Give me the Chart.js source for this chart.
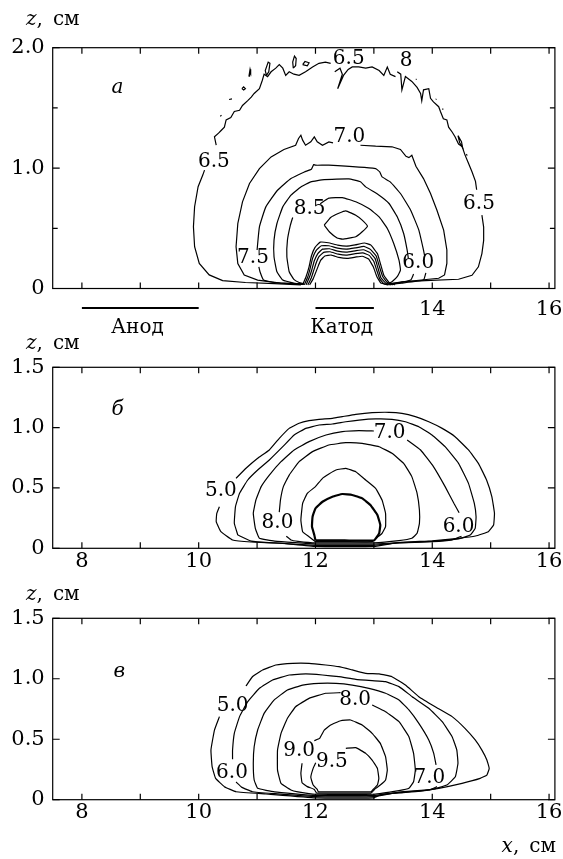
<!DOCTYPE html>
<html>
<head>
<meta charset="utf-8">
<script src="https://cdn.jsdelivr.net/npm/chart.js@4.4.0/dist/chart.umd.min.js"></script>
<style>
  body { margin: 0; background: #fff; width: 563px; height: 859px; position: relative; overflow: hidden; }
  canvas { position: absolute; left: 0; }
</style>
</head>
<body>
<canvas id="chartA" width="563" height="340" style="top:0"></canvas>
<canvas id="chartB" width="563" height="250" style="top:330px"></canvas>
<canvas id="chartC" width="563" height="279" style="top:580px"></canvas>
<script>
const FAMILY = '"DejaVu Serif", "Liberation Serif", serif';
const TICK_SIZE = 21;
const FONT = "20px " + FAMILY;
const FONT_IT = "italic 20px " + FAMILY;

const xTicks = [8, 9, 10, 11, 12, 13, 14, 15, 16];
const xLabelsA = [14, 16];
const xLabels = [8, 10, 12, 14, 16];
const zTicksA = [0, 0.5, 1, 1.5, 2];
const zLabelsA = [0, 1, 2];
const zTicks = [0, 0.5, 1, 1.5];

// electrodes under panel a: name, from x, to x, text centre
const electrodes = [["Анод", 8, 10, 8.95], ["Катод", 12, 13, 12.45]];

// panel a contours, [x, z] in cm, null = gap for a label
const a65 = [
  [11.75,0.03],[11.3,0.04],[10.8,0.05],[10.41,0.065],[10.18,0.113],[10.01,0.209],[9.93,0.347],[9.91,0.513],[9.93,0.679],[9.99,0.845],[10.07,0.942],[10.10,0.983], null,
  [10.30,1.19],[10.27,1.26],[10.34,1.29],[10.38,1.31],[10.44,1.34],[10.47,1.40],[10.55,1.42],[10.61,1.47],[10.70,1.48],[10.75,1.52],[10.84,1.56],[10.90,1.59],[10.95,1.62],[11.04,1.66],[11.09,1.73],[11.12,1.78],[11.18,1.76],[11.24,1.80],[11.32,1.83],[11.38,1.86],[11.44,1.83],[11.49,1.77],[11.55,1.80],[11.63,1.78],[11.72,1.77],[11.83,1.80],[11.95,1.84],[12.06,1.87],[12.17,1.88],[12.26,1.87], null,
  [12.33,1.80],[12.42,1.83],[12.46,1.78],[12.38,1.66],[12.48,1.77],[12.56,1.82],[12.63,1.84],[12.74,1.84],[12.86,1.83],[12.97,1.84],[13.09,1.81],[13.17,1.77],[13.23,1.84],[13.28,1.78],[13.37,1.76], null,
  [13.40,1.80],[13.46,1.78],[13.48,1.65],[13.54,1.76],[13.65,1.72],[13.74,1.67],[13.80,1.62],[13.82,1.56],[13.85,1.65],[13.94,1.66],[13.97,1.58],[14.02,1.55],[14.11,1.51],[14.14,1.47],[14.19,1.41],[14.25,1.40],[14.28,1.34],[14.34,1.30],[14.39,1.26],[14.45,1.20],[14.51,1.18],[14.56,1.11],[14.62,1.04],[14.68,0.97],[14.74,0.89],[14.76,0.82], null,
  [14.85,0.61],[14.88,0.51],[14.88,0.40],[14.85,0.29],[14.79,0.18],[14.68,0.11],[14.45,0.077],[13.88,0.066],[13.48,0.055],[13.3,0.04]
];
const a70 = [
  [11.78,0.035],[11.4,0.045],[11.01,0.07],[10.78,0.112],[10.67,0.208],[10.64,0.347],[10.67,0.54],[10.75,0.72],[10.87,0.872],[11.04,0.996],[11.24,1.093],[11.46,1.154],[11.66,1.19],[11.71,1.246],[11.75,1.273],[11.78,1.232],[11.83,1.19],[11.92,1.218],[11.98,1.259],[12.03,1.218],[12.12,1.19],[12.23,1.218],[12.30,1.21], null,
  [12.77,1.19],[13.03,1.182],[13.31,1.177],[13.455,1.155],[13.55,1.098],[13.60,1.087],[13.65,1.107],[13.72,1.015],[13.85,0.913],[13.97,0.789],[14.08,0.65],[14.195,0.485],[14.25,0.32],[14.25,0.209],[14.21,0.113],[14.11,0.085],[13.60,0.06],[13.3,0.04]
];
const a75 = [
  [11.8,0.038],[11.3,0.05],[11.11,0.07],[11.05,0.139],[11.03,0.18], null,
  [11.0,0.32],[11.04,0.512],[11.15,0.678],[11.35,0.816],[11.58,0.913],[11.81,0.968],[11.93,0.99],[11.97,1.03],[12.0,1.024],[12.23,1.024],[13.03,0.996],[13.10,0.968],[13.14,0.927],[13.28,0.886],[13.455,0.789],[13.63,0.65],[13.77,0.485],[13.85,0.319],[13.87,0.27], null,
  [13.89,0.13],[13.85,0.07],[13.48,0.045],[13.3,0.038]
];
const a80 = [
  [11.8,0.035],[11.63,0.045],[11.44,0.07],[11.34,0.139],[11.29,0.264],[11.29,0.402],[11.34,0.54],[11.44,0.678],[11.58,0.775],[11.75,0.844],[11.92,0.886],[12.15,0.905],[12.57,0.91],[12.77,0.886],[12.86,0.844],[13.09,0.775],[13.26,0.706],[13.40,0.595],[13.51,0.457],[13.57,0.319],[13.59,0.25], null,
  [13.68,0.12],[13.63,0.07],[13.37,0.04],[13.28,0.035]
];
const a85 = [
  [11.8,0.04],[11.72,0.05],[11.63,0.076],[11.55,0.139],[11.51,0.264],[11.52,0.402],[11.57,0.526],[11.61,0.59], null,
  [12.08,0.705],[12.23,0.75],[12.46,0.755],[12.69,0.72],[12.915,0.664],[13.09,0.595],[13.23,0.499],[13.34,0.374],[13.43,0.236],[13.455,0.153],[13.40,0.098],[13.31,0.056],[13.25,0.04]
];
const aEye = [[12.15,0.526],[12.26,0.59],[12.40,0.625],[12.52,0.645],[12.69,0.609],[12.80,0.568],[12.89,0.518],[12.80,0.471],[12.69,0.43],[12.46,0.41],[12.37,0.42],[12.25,0.465],[12.15,0.526]];
const aBump1 = [[11.78,0.03],[11.84,0.10],[11.89,0.18],[11.93,0.27],[11.99,0.34],[12.08,0.385],[12.22,0.38],[12.38,0.36],[12.53,0.352],[12.68,0.362],[12.84,0.378],[12.95,0.36],[13.06,0.29],[13.11,0.21],[13.17,0.11],[13.26,0.05],[13.36,0.03]];
const aBump2 = [[11.81,0.03],[11.87,0.10],[11.91,0.17],[11.95,0.25],[12.01,0.315],[12.10,0.355],[12.23,0.355],[12.38,0.335],[12.53,0.327],[12.68,0.337],[12.83,0.35],[12.94,0.325],[13.04,0.27],[13.09,0.19],[13.15,0.10],[13.23,0.05],[13.33,0.03]];
const aBump3 = [[11.84,0.03],[11.90,0.10],[11.94,0.16],[11.98,0.23],[12.04,0.29],[12.12,0.327],[12.24,0.33],[12.38,0.31],[12.53,0.302],[12.68,0.313],[12.82,0.322],[12.93,0.30],[13.02,0.25],[13.07,0.17],[13.12,0.09],[13.20,0.045],[13.30,0.03]];
const aBump4 = [[11.87,0.03],[11.93,0.09],[11.97,0.15],[12.01,0.21],[12.06,0.265],[12.14,0.30],[12.25,0.305],[12.39,0.285],[12.53,0.277],[12.68,0.289],[12.81,0.296],[12.92,0.275],[13.00,0.225],[13.05,0.15],[13.10,0.08],[13.17,0.04],[13.27,0.03]];
const aBump5 = [[11.90,0.03],[11.96,0.08],[12.01,0.14],[12.05,0.19],[12.09,0.235],[12.16,0.27],[12.27,0.278],[12.40,0.258],[12.55,0.25],[12.70,0.262],[12.80,0.268],[12.91,0.245],[12.99,0.18],[13.05,0.10],[13.12,0.045],[13.24,0.03]];
const aSpots = [
  [[11.16,1.77],[11.14,1.81],[11.19,1.88],[11.22,1.87],[11.20,1.80],[11.16,1.77]],
  [[11.62,1.83],[11.61,1.88],[11.64,1.93],[11.67,1.91],[11.66,1.85],[11.62,1.83]],
  [[11.78,1.86],[11.82,1.885],[11.89,1.875],[11.86,1.85],[11.78,1.86]],
  [[10.86,1.76],[10.88,1.82],[10.89,1.80],[10.87,1.76]],
  [[10.74,1.66],[10.77,1.675],[10.80,1.66],[10.77,1.648],[10.74,1.66]],
  [[10.52,1.57],[10.57,1.575]],
  [[10.37,1.43],[10.39,1.44]],
  [[13.72,1.735],[13.73,1.74]],
  [[14.06,1.57],[14.07,1.575]],
  [[14.17,1.49],[14.18,1.495]],
  [[14.44,1.27],[14.50,1.22],[14.52,1.17],[14.47,1.21],[14.44,1.27]],
  [[14.58,1.115],[14.59,1.11]]
];
const notesA = [["6.5",10.26,1.05],["6.5",12.57,1.91],["8",13.55,1.89],["7.0",12.58,1.26],["6.5",14.8,0.70],["8.5",11.9,0.66],["7.5",10.93,0.253],["6.0",13.76,0.216]];

// panel б
const b50 = [[10.64,0.58],[10.81,0.663],[11.01,0.746],[11.21,0.815],[11.38,0.911],[11.55,0.994],[11.72,1.036],[11.89,1.058],[12.06,1.069],[12.29,1.077],[12.46,1.091],[12.69,1.11],[12.97,1.124],[13.26,1.127],[13.48,1.118],[13.71,1.091],[13.94,1.049],[14.17,0.994],[14.39,0.925],[14.62,0.815],[14.79,0.704],[14.93,0.566],[15.02,0.428],[15.065,0.29],[15.05,0.193],[14.96,0.138],[14.74,0.102],[14.45,0.083],[14.0,0.062],[13.43,0.048],[13.0,0.015],[12.0,0.015],[11.4,0.042],[10.9,0.052],[10.58,0.069],[10.38,0.138],[10.30,0.221],[10.31,0.29],[10.355,0.345]];
const b55 = [[10.67,0.11],[10.61,0.207],[10.63,0.345],[10.70,0.456],[10.84,0.566],[11.01,0.649],[11.21,0.732],[11.44,0.842],[11.635,0.939],[11.835,0.994],[12.06,1.022],[12.29,1.03],[12.52,1.049],[12.745,1.063],[13.03,1.072],[13.31,1.069],[13.54,1.049],[13.77,1.008],[13.995,0.939],[14.22,0.842],[14.45,0.704],[14.62,0.538],[14.72,0.373],[14.75,0.262],[14.735,0.165],[14.65,0.11],[14.45,0.078],[14.0,0.058],[13.4,0.045],[13.0,0.025],[12.0,0.025],[11.3,0.045],[10.9,0.06],[10.67,0.11]];
const b60 = [
  [14.50,0.10],[14.34,0.07],[14.0,0.055],[13.4,0.045],[13.0,0.035],[12.0,0.035],[11.3,0.06],[11.04,0.083],[10.97,0.166],[10.935,0.29],[10.98,0.4],[11.07,0.511],[11.21,0.607],[11.41,0.718],[11.635,0.815],[11.89,0.884],[12.18,0.939],[12.46,0.967],[12.745,0.975],[13.0,0.972], null,
  [13.57,0.898],[13.80,0.815],[14.02,0.677],[14.22,0.511],[14.37,0.373],[14.46,0.295]
];
const b70 = [[11.38,0.30],[11.40,0.4],[11.45,0.511],[11.55,0.607],[11.72,0.718],[11.95,0.801],[12.23,0.856],[12.52,0.875],[12.80,0.87],[13.09,0.842],[13.31,0.787],[13.51,0.704],[13.65,0.594],[13.74,0.456],[13.78,0.317],[13.78,0.207],[13.74,0.124],[13.65,0.083],[13.43,0.063],[13.0,0.045],[12.0,0.045],[11.7,0.058],[11.58,0.069],[11.50,0.10]];
const b80 = [[12.0,0.055],[11.89,0.096],[11.78,0.138],[11.75,0.235],[11.78,0.373],[11.86,0.456],[12.0,0.511],[12.12,0.58],[12.23,0.616],[12.35,0.649],[12.52,0.663],[12.69,0.635],[12.86,0.566],[13.03,0.497],[13.14,0.4],[13.20,0.29],[13.20,0.179],[13.14,0.124],[13.06,0.091],[12.97,0.055],[12.5,0.055],[12.0,0.055]];
const b90 = [[12.0,0.065],[11.98,0.11],[11.94,0.179],[11.95,0.262],[12.0,0.331],[12.12,0.386],[12.29,0.428],[12.46,0.45],[12.63,0.442],[12.80,0.414],[12.94,0.359],[13.06,0.276],[13.11,0.193],[13.09,0.124],[13.0,0.065],[12.5,0.065],[12.0,0.065]];
const notesB = [["5.0",10.38,0.48],["7.0",13.27,0.96],["8.0",11.35,0.21],["6.0",14.45,0.175]];

// panel в
const c50 = [[10.81,0.94],[10.92,1.017],[11.095,1.073],[11.32,1.114],[11.61,1.128],[11.89,1.128],[12.175,1.114],[12.40,1.10],[12.63,1.073],[12.86,1.045],[13.09,1.04],[13.31,1.017],[13.54,0.948],[13.77,0.852],[14.05,0.769],[14.34,0.687],[14.56,0.59],[14.735,0.494],[14.85,0.41],[14.935,0.328],[14.975,0.259],[14.935,0.204],[14.82,0.176],[14.51,0.135],[14.11,0.094],[13.71,0.066],[13.14,0.047],[13.0,0.015],[12.0,0.015],[11.15,0.047],[10.64,0.066],[10.44,0.108],[10.29,0.176],[10.23,0.273],[10.21,0.411],[10.27,0.576],[10.355,0.687]];
const c60 = [[10.58,0.334],[10.58,0.411],[10.61,0.549],[10.70,0.687],[10.84,0.811],[11.04,0.921],[11.265,0.99],[11.55,1.031],[11.835,1.04],[12.12,1.031],[12.40,1.017],[12.69,0.995],[12.97,0.984],[13.20,0.976],[13.43,0.935],[13.655,0.852],[13.94,0.756],[14.17,0.645],[14.34,0.521],[14.42,0.411],[14.44,0.301],[14.395,0.19],[14.25,0.121],[14.0,0.085],[13.43,0.063],[13.0,0.025],[12.0,0.025],[11.3,0.05],[10.92,0.066],[10.74,0.102],[10.64,0.146]];
const c70 = [[14.08,0.108],[13.94,0.08],[13.43,0.058],[13.0,0.035],[12.0,0.035],[11.3,0.065],[11.01,0.094],[10.95,0.163],[10.935,0.301],[10.95,0.438],[11.01,0.576],[11.12,0.714],[11.29,0.824],[11.52,0.907],[11.78,0.948],[12.06,0.962],[12.35,0.962],[12.63,0.948],[12.915,0.921],[13.20,0.88],[13.43,0.824],[13.60,0.742],[13.77,0.631],[13.94,0.494],[14.025,0.383],[14.065,0.287]];
const c80 = [[12.97,0.783],[13.20,0.728],[13.43,0.645],[13.60,0.521],[13.68,0.383],[13.71,0.245],[13.68,0.149],[13.60,0.094],[13.43,0.075],[13.0,0.045],[12.0,0.045],[11.7,0.065],[11.58,0.08],[11.41,0.135],[11.35,0.245],[11.35,0.411],[11.41,0.549],[11.52,0.673],[11.66,0.769],[11.89,0.838],[12.175,0.88],[12.43,0.885]];
const c90 = [[11.98,0.488],[12.07,0.507],[12.15,0.576],[12.26,0.618],[12.43,0.653],[12.60,0.659],[12.80,0.618],[12.97,0.549],[13.11,0.466],[13.20,0.356],[13.23,0.245],[13.20,0.163],[13.11,0.121],[13.03,0.094],[12.95,0.055],[12.5,0.055],[12.02,0.055],[11.98,0.085],[11.86,0.108],[11.77,0.141],[11.75,0.218],[11.77,0.301]];
const c95 = [[12.52,0.425],[12.69,0.43],[12.86,0.383],[12.97,0.328],[13.06,0.259],[13.085,0.176],[13.06,0.121],[13.0,0.091],[12.95,0.065],[12.5,0.065],[12.05,0.065],[12.03,0.085],[11.96,0.121],[11.92,0.185],[11.96,0.259],[12.005,0.306]];
const notesC = [["5.0",10.58,0.78],["6.0",10.57,0.225],["8.0",12.68,0.83],["9.0",11.72,0.405],["9.5",12.28,0.31],["7.0",13.95,0.18]];

const panels = [
  {
    id: "chartA", zMax: 2, zTicks: zTicksA, zLabels: zLabelsA, xLabels: xLabelsA,
    top: 47.7, bottom: 288.5, xPad: 8, titleY: 20, letter: ["а", 8.61, 1.67],
    notes: notesA,
    lines: [[a65, 1.2, 0], [a70, 1.2, 0], [a75, 1.2, 0.12], [a80, 1.2, 0.12], [a85, 1.2, 0.12], [aEye, 1.2, 0.1],
      [aBump1, 1.2, 0.1], [aBump2, 1.2, 0.1], [aBump3, 1.2, 0.1], [aBump4, 1.2, 0.1], [aBump5, 1.2, 0.1],
      ...aSpots.map((s) => [s, 1.2, 0])],
    electrodes: true,
  },
  {
    id: "chartB", zMax: 1.5, zTicks: zTicks, zLabels: zTicks, xLabels: xLabels,
    top: 37.3, bottom: 218.3, xPad: 1, titleY: 14, letter: ["б", 8.61, 1.146],
    notes: notesB,
    lines: [[b50, 1.2, 0.1], [b55, 1.2, 0.1], [b60, 1.2, 0.1], [b70, 1.2, 0.1], [b80, 1.2, 0.1], [b90, 2.2, 0.1]],
  },
  {
    id: "chartC", zMax: 1.5, zTicks: zTicks, zLabels: zTicks, xLabels: xLabels,
    top: 38.3, bottom: 219.7, xPad: 0.5, titleY: 15, letter: ["в", 8.64, 1.06],
    notes: notesC,
    lines: [[c50, 1.2, 0.1], [c60, 1.2, 0.1], [c70, 1.2, 0.1], [c80, 1.2, 0.1], [c90, 1.2, 0.1], [c95, 1.2, 0.1]],
    xTitle: true,
  },
];

function toPoints(pts) {
  const out = [];
  pts.forEach((p) => {
    if (p === null) out.push({ x: out[out.length - 1].x, y: null });
    else out.push({ x: p[0], y: p[1] });
  });
  return out;
}

function fmt(v) {
  return v === 0 ? "0" : v.toFixed(1);
}

function drawTitle(ctx, sym, x, y, alignRight) {
  ctx.font = FONT_IT;
  const w1 = ctx.measureText(sym).width;
  ctx.font = FONT;
  const w2 = ctx.measureText(",").width;
  const w3 = ctx.measureText("см").width;
  const gap = 10;
  const x0 = alignRight ? x - (w1 + w2 + gap + w3) : x;
  ctx.textAlign = "left";
  ctx.textBaseline = "middle";
  ctx.font = FONT_IT;
  ctx.fillText(sym, x0, y);
  ctx.font = FONT;
  ctx.fillText(",", x0 + w1, y);
  ctx.fillText("см", x0 + w1 + w2 + gap, y);
}

function framePlugin(p) {
  return {
    id: "frame",
    afterDatasetsDraw(chart) {
      const { ctx, chartArea: a } = chart;
      const xs = chart.scales.x;
      const ys = chart.scales.y;
      ctx.save();
      ctx.strokeStyle = "#000";
      ctx.lineWidth = 1.2;
      ctx.strokeRect(a.left, a.top, a.right - a.left, a.bottom - a.top);
      ctx.beginPath();
      xTicks.forEach((v) => {
        const px = xs.getPixelForValue(v);
        ctx.moveTo(px, a.bottom);
        ctx.lineTo(px, a.bottom - 6);
        ctx.moveTo(px, a.top);
        ctx.lineTo(px, a.top + 6);
      });
      p.zTicks.forEach((v) => {
        const py = ys.getPixelForValue(v);
        const len = p.zLabels.includes(v) ? 7 : 5;
        ctx.moveTo(a.left, py);
        ctx.lineTo(a.left + len, py);
        ctx.moveTo(a.right, py);
        ctx.lineTo(a.right - len, py);
      });
      ctx.stroke();

      ctx.fillStyle = "#000";
      ctx.font = FONT;
      ctx.textAlign = "center";
      ctx.textBaseline = "middle";
      p.notes.forEach(([t, x, z]) => {
        ctx.fillText(t, xs.getPixelForValue(x), ys.getPixelForValue(z));
      });

      ctx.font = FONT_IT;
      ctx.fillText(p.letter[0], xs.getPixelForValue(p.letter[1]), ys.getPixelForValue(p.letter[2]));

      drawTitle(ctx, "z", 26, p.titleY, false);

      if (p.electrodes) {
        ctx.lineWidth = 2;
        ctx.beginPath();
        electrodes.forEach(([name, x0, x1]) => {
          ctx.moveTo(xs.getPixelForValue(x0), a.bottom + 19.5);
          ctx.lineTo(xs.getPixelForValue(x1), a.bottom + 19.5);
        });
        ctx.stroke();
        ctx.font = FONT;
        ctx.textAlign = "center";
        electrodes.forEach(([name, x0, x1, tx]) => {
          ctx.fillText(name, xs.getPixelForValue(tx), a.bottom + 39.5);
        });
      }
      if (p.xTitle) drawTitle(ctx, "x", 556, a.bottom + 47, true);
      ctx.restore();
    },
  };
}

function makeChart(p) {
  const canvas = document.getElementById(p.id);
  const H = canvas.height;
  const datasets = p.lines.map(([pts, w, t]) => ({
    data: toPoints(pts),
    showLine: true,
    borderColor: "#000",
    borderWidth: w,
    pointRadius: 0,
    tension: t,
    spanGaps: false,
    fill: false,
  }));
  return new Chart(canvas.getContext("2d"), {
    type: "scatter",
    data: { datasets },
    options: {
      responsive: false,
      animation: false,
      events: [],
      layout: { autoPadding: false, padding: { left: 0, right: 8.1, top: p.top, bottom: 0 } },
      plugins: { legend: { display: false }, tooltip: { enabled: false } },
      scales: {
        x: {
          type: "linear",
          min: 7.5,
          max: 16.1,
          grid: { display: false, drawTicks: false },
          border: { display: false },
          afterBuildTicks: (scale) => { scale.ticks = xTicks.map((v) => ({ value: v })); },
          afterFit: (scale) => {
            scale.height = H - p.bottom;
            scale.paddingLeft = 0;
            scale.paddingRight = 0;
          },
          ticks: {
            autoSkip: false,
            maxRotation: 0,
            padding: p.xPad,
            color: "#000",
            font: { family: FAMILY, size: TICK_SIZE },
            callback: (v) => (p.xLabels.includes(v) ? String(v) : ""),
          },
        },
        y: {
          type: "linear",
          min: 0,
          max: p.zMax,
          grid: { display: false, drawTicks: false },
          border: { display: false },
          afterBuildTicks: (scale) => { scale.ticks = p.zTicks.map((v) => ({ value: v })); },
          afterFit: (scale) => {
            scale.width = 52.7;
            scale.paddingTop = 0;
            scale.paddingBottom = 0;
          },
          ticks: {
            autoSkip: false,
            padding: 8,
            color: "#000",
            font: { family: FAMILY, size: TICK_SIZE },
            callback: (v) => (p.zLabels.includes(v) ? fmt(v) : ""),
          },
        },
      },
    },
    plugins: [framePlugin(p)],
  });
}

panels.forEach(makeChart);
</script>
</body>
</html>
